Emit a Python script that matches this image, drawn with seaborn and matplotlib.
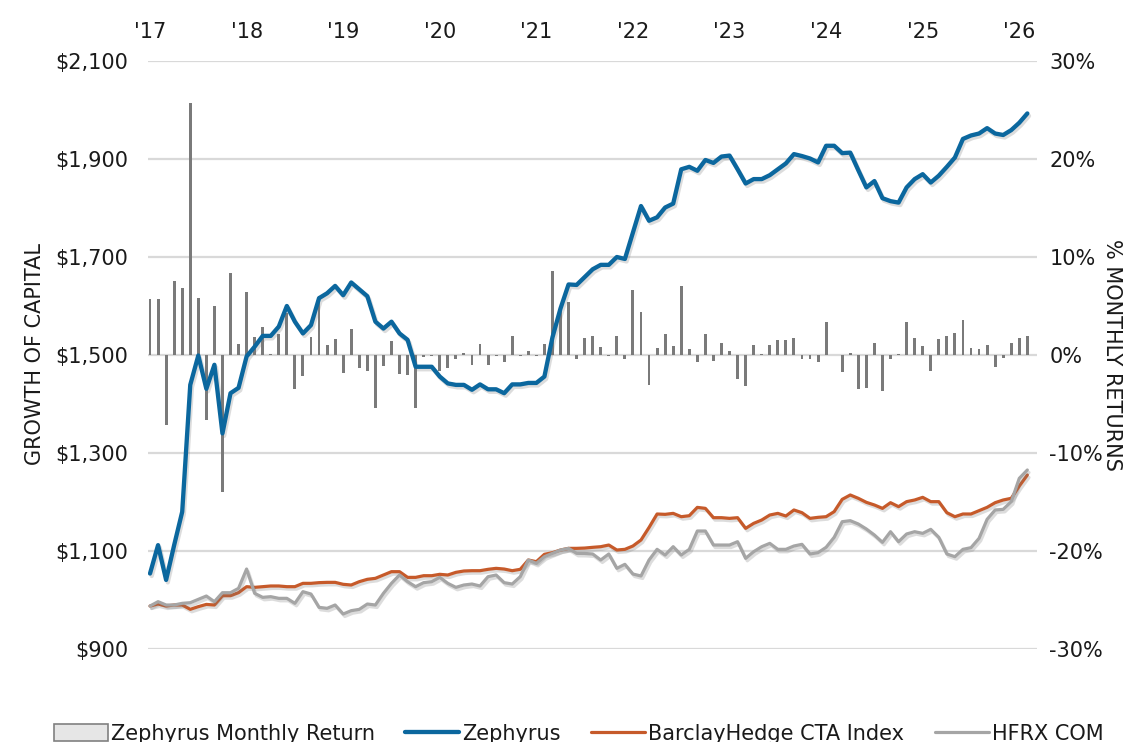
import numpy as np
import pandas as pd
import matplotlib
matplotlib.use("Agg")
import matplotlib.pyplot as plt
import matplotlib.patheffects as pe
from matplotlib.patches import Patch
from matplotlib.lines import Line2D
import seaborn as sns

# ---------------- data ----------------
year_labels = ["'17", "'18", "'19", "'20", "'21", "'22", "'23", "'24", "'25", "'26"]

monthly_return = [
    5.75, 5.75, -7.1, 7.55, 6.8, 25.7, 5.85, -6.6, 5.0, -14.0,
    8.4, 1.1, 6.4, 1.8, 2.9, 0.1, 2.1, 4.25, -3.5, -2.1,
    1.8, 6.0, 1.0, 1.6, -1.8, 2.7, -1.3, -1.6, -5.4, -1.1,
    1.4, -1.9, -2.0, -5.4, -0.2, -0.1, -1.6, -1.3, -0.4, 0.2,
    -1.0, 1.1, -1.0, -0.1, -0.7, 1.9, -0.1, 0.4, -0.1, 1.1,
    8.6, 4.5, 5.4, -0.4, 1.7, 1.9, 0.8, -0.1, 1.9, -0.4,
    6.6, 4.4, -3.1, 0.7, 2.1, 0.9, 7.0, 0.6, -0.7, 2.1,
    -0.6, 1.2, 0.4, -2.4, -3.2, 1.0, 0.1, 1.0, 1.5, 1.5,
    1.7, -0.45, -0.45, -0.7, 3.4, -0.05, -1.7, 0.25, -3.5, -3.4,
    1.25, -3.7, -0.45, 0.1, 3.4, 1.7, 0.9, -1.6, 1.6, 1.9,
    2.2, 3.6, 0.75, 0.6, 1.0, -1.2, -0.3, 1.25, 1.7, 1.9,
]

zephyrus = [
    1054, 1112, 1041, 1112, 1180, 1439, 1499, 1431, 1480, 1340,
    1422, 1433, 1497, 1517, 1539, 1539, 1558, 1600, 1568, 1544,
    1561, 1616, 1626, 1641, 1622, 1648, 1634, 1620, 1568, 1554,
    1568, 1544, 1531, 1476, 1476, 1476, 1456, 1442, 1439, 1439,
    1429, 1440, 1430, 1430, 1422, 1440, 1440, 1443, 1443, 1456,
    1536, 1595, 1644, 1643, 1659, 1675, 1684, 1684, 1700, 1696,
    1750, 1804, 1774, 1781, 1801, 1809, 1879, 1884, 1876, 1898,
    1892, 1905, 1907, 1879, 1850, 1859, 1859, 1867, 1879, 1891,
    1910, 1906, 1901, 1893, 1927, 1927, 1912, 1913, 1877, 1842,
    1855, 1820, 1814, 1811, 1842, 1859, 1869, 1852, 1866, 1884,
    1903, 1941, 1948, 1952, 1963, 1952, 1949, 1959, 1974, 1993,
]

barclay = [
    987.7, 991.8, 987.7, 989.8, 989.8, 981.0, 986.4, 991.0, 989.8, 1008.8,
    1008.8, 1015.0, 1027.2, 1025.8, 1027.2, 1028.6, 1028.6, 1027.2, 1027.2, 1034.0,
    1034.0, 1035.4, 1036.0, 1036.0, 1032.0, 1030.6, 1037.4, 1042.2, 1044.2, 1051.0,
    1057.8, 1057.8, 1046.2, 1046.2, 1049.6, 1049.6, 1052.4, 1051.0, 1056.4, 1059.2,
    1059.8, 1059.8, 1062.6, 1064.6, 1063.2, 1059.8, 1062.6, 1081.6, 1078.2, 1093.2,
    1096.6, 1102.0, 1105.4, 1105.4, 1106.0, 1107.5, 1108.8, 1112.2, 1102.0, 1103.4,
    1110.2, 1122.4, 1148.0, 1175.5, 1174.8, 1176.8, 1170.0, 1172.0, 1189.0, 1187.0,
    1168.0, 1168.0, 1166.6, 1168.0, 1146.2, 1156.4, 1163.2, 1173.4, 1176.8, 1171.4,
    1183.7, 1178.2, 1166.6, 1168.7, 1170.0, 1180.3, 1205.4, 1214.3, 1207.5, 1199.3,
    1193.9, 1187.0, 1198.6, 1190.5, 1200.7, 1204.1, 1209.5, 1200.7, 1200.7, 1178.2,
    1170.0, 1175.5, 1175.5, 1182.3, 1189.1, 1198.6, 1204.1, 1207.5, 1232.6, 1255.1,
]

hfrx_com = [
    987.7, 996.6, 989.8, 989.8, 993.2, 994.5, 1001.3, 1008.1, 996.6, 1014.9,
    1014.9, 1023.8, 1063.2, 1013.6, 1005.4, 1006.8, 1003.4, 1003.4, 993.2, 1017.0,
    1012.2, 985.0, 983.0, 989.8, 971.4, 978.2, 980.9, 991.8, 989.8, 1013.6,
    1034.0, 1051.0, 1037.4, 1027.2, 1035.4, 1037.4, 1046.2, 1034.0, 1025.8, 1030.6,
    1032.6, 1028.6, 1047.6, 1051.0, 1035.4, 1032.6, 1047.6, 1081.6, 1074.8, 1088.4,
    1095.2, 1102.0, 1105.4, 1095.2, 1095.0, 1093.9, 1081.6, 1093.9, 1064.6, 1072.8,
    1053.0, 1049.0, 1081.6, 1103.4, 1091.8, 1108.8, 1091.8, 1103.4, 1140.8, 1140.8,
    1112.2, 1112.2, 1112.2, 1119.0, 1085.0, 1098.6, 1108.8, 1115.6, 1103.4, 1103.4,
    1110.2, 1113.6, 1093.9, 1096.6, 1107.5, 1127.9, 1159.8, 1161.9, 1155.1, 1144.9,
    1132.6, 1117.7, 1139.4, 1119.0, 1134.7, 1139.4, 1136.0, 1144.2, 1127.9, 1093.9,
    1088.4, 1103.4, 1106.8, 1125.8, 1164.6, 1183.7, 1185.0, 1200.7, 1248.3, 1265.3,
]

left_ticks = [900, 1100, 1300, 1500, 1700, 1900, 2100]
right_ticks = [-30, -20, -10, 0, 10, 20, 30]

# ---------------- style ----------------
sns.set_theme(style="white")
plt.rcParams["font.family"] = ["DejaVu Sans"]
TXT = "#1a1a1a"
BLUE = "#0b679e"
ORANGE = "#c65a2a"
GREY = "#a5a5a5"
BAR = "#7a7a7a"
FS = 15

months = np.arange(len(zephyrus))
df = pd.DataFrame({
    "month": months,
    "ret": monthly_return,
    "zeph": zephyrus,
    "barclay": barclay,
    "hfrx": hfrx_com,
})

W, H = 1128, 742
fig = plt.figure(figsize=(W / 100, H / 100), dpi=100)
fig.patch.set_facecolor("white")
ax = fig.add_axes([148 / W, 1 - 649 / H, (1037 - 148) / W, 588 / H])
ax2 = ax.twinx()

# bars (right axis)
sns.barplot(data=df, x="month", y="ret", ax=ax2, color=BAR, native_scale=True,
            width=0.36, linewidth=0, saturation=1)
ax2.set_ylim(-30, 30)
ax2.set_yticks(right_ticks)
ax2.set_yticklabels([f"{t}%" for t in right_ticks])
ax2.grid(axis="y", color="#d9d9d9", linewidth=1.6)
ax2.grid(axis="x", visible=False)
ax2.set_axisbelow(True)
ax2.set_ylabel("")
ax2.tick_params(axis="y", length=0, pad=9, labelsize=FS, labelcolor=TXT)

# lines (left axis) on top
ax.set_zorder(ax2.get_zorder() + 1)
ax.patch.set_visible(False)
shadow = [pe.SimpleLineShadow(offset=(1.2, -1.8), shadow_color="#777777", alpha=0.25), pe.Normal()]
sns.lineplot(data=df, x="month", y="zeph", ax=ax, color=BLUE, linewidth=3.1,
             path_effects=shadow)
sns.lineplot(data=df, x="month", y="barclay", ax=ax, color=ORANGE, linewidth=2.3,
             path_effects=shadow)
sns.lineplot(data=df, x="month", y="hfrx", ax=ax, color=GREY, linewidth=2.3,
             path_effects=shadow)

ax.set_ylim(900, 2100)
ax.set_yticks(left_ticks)
ax.set_yticklabels([f"${t:,}" for t in left_ticks])
ax.set_xlim(-0.25, 110.2)
ax2.set_xlim(-0.25, 110.2)
ax.set_xticks(range(0, 109, 12))
ax.set_xticklabels(year_labels)
ax.xaxis.tick_top()
ax.tick_params(axis="x", length=0, pad=14, labelsize=FS, labelcolor=TXT,
               labeltop=True, labelbottom=False)
ax.tick_params(axis="y", length=0, pad=14, labelsize=FS, labelcolor=TXT)
ax.set_xlabel("")
ax.set_ylabel("")
ax.grid(False)

for a in (ax, ax2):
    for s in a.spines.values():
        s.set_visible(False)

fig.text(35 / W, 1 - 354 / H, "GROWTH OF CAPITAL", rotation=90, ha="center",
         va="center", fontsize=FS, color=TXT)
fig.text(1112 / W, 1 - 355 / H, "% MONTHLY RETURNS", rotation=270, ha="center",
         va="center", fontsize=FS, color=TXT)

handles = [
    Patch(facecolor="#e6e6e6", edgecolor="#808080", linewidth=1.2),
    Line2D([], [], color=BLUE, linewidth=3.1),
    Line2D([], [], color=ORANGE, linewidth=2.3),
    Line2D([], [], color=GREY, linewidth=2.3),
]
labels = ["Zephyrus Monthly Return", "Zephyrus", "BarclayHedge CTA Index", "HFRX COM"]
fig.legend(handles, labels, loc="center", bbox_to_anchor=(0.513, 8 / H), ncol=4,
           frameon=False, fontsize=FS, handlelength=2.6, handleheight=0.9,
           columnspacing=1.45, handletextpad=0.15, labelcolor=TXT)

fig.savefig("out.png", dpi=100, facecolor="white")
